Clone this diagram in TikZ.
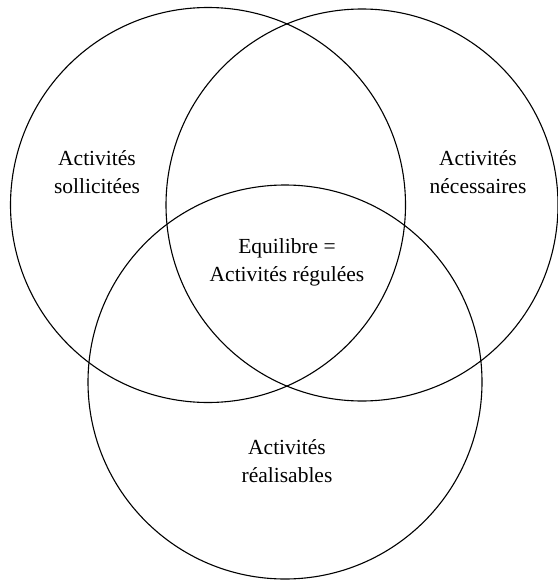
\documentclass[tikz,border=0pt]{standalone}
\usepackage{fontspec}
\setmainfont{Liberation Serif}
\begin{document}
\begin{tikzpicture}[x=1pt,y=-1pt,
  ring/.style={draw=black,line width=1.1pt},
  label/.style={align=center,font=\fontsize{21.5}{28}\selectfont,inner sep=0pt}]
  \useasboundingbox (0,0) rectangle (557,580);
  % the three overlapping sets
  \draw[ring] (208,205) circle[radius=197.5];
  \draw[ring] (362,205) circle[radius=196];
  \draw[ring] (285,382) circle[radius=197];
  % set labels
  \node[label] (sollicitees) at (97,172) {Activités\\sollicitées};
  \node[label] (necessaires) at (478,172) {Activités\\nécessaires};
  \node[label] (equilibre) at (287,262) {Equilibre =\\Activités régulées};
  \node[label] (realisables) at (287,461) {Activités\\réalisables};
\end{tikzpicture}
\end{document}
